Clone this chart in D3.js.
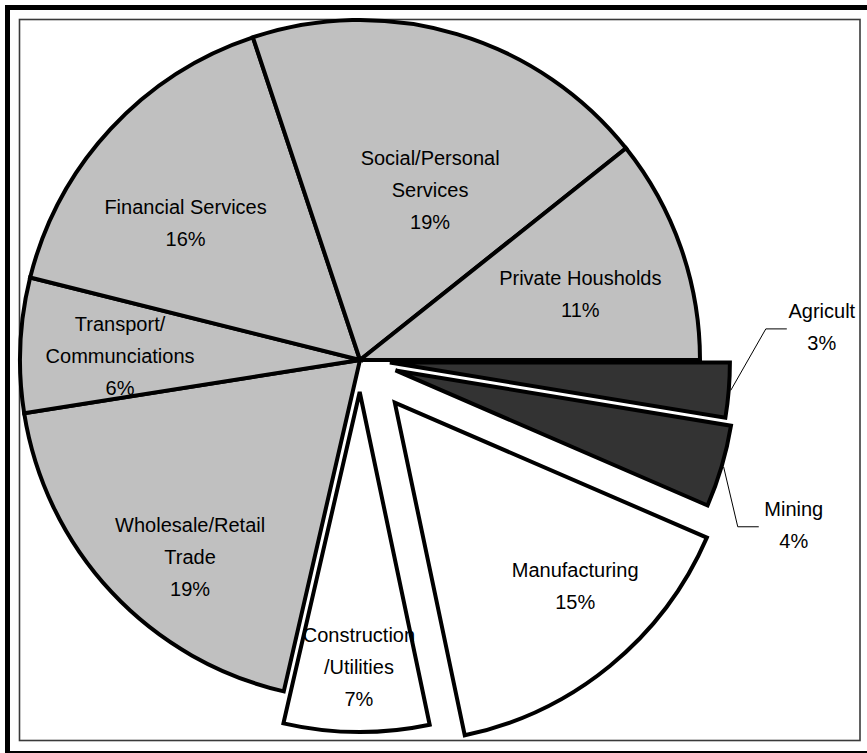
<!DOCTYPE html>
<html>
<head>
<meta charset="utf-8">
<script src="https://cdn.jsdelivr.net/npm/d3@7"></script>
<style>
  html, body { margin: 0; padding: 0; background: #fff; }
  svg { display: block; }
  text { font-family: "Liberation Sans Narrow", "Arial Narrow", "Liberation Sans", sans-serif; }
</style>
</head>
<body>
<svg id="chart" width="867" height="753"></svg>
<script>
// ---- data ----
const categories = ["Agricult", "Mining", "Manufacturing", "Construction\n/Utilities",
  "Wholesale/Retail\nTrade", "Transport/\nCommunciations", "Financial Services",
  "Social/Personal\nServices", "Private Housholds"];
const shares = [2.6, 3.9, 15.2, 6.9, 18.9, 6.4, 16.0, 19.4, 10.7];
const sliceGroup = ["dark", "dark", "white", "white", "gray", "gray", "gray", "gray", "gray"];

// ---- layout (not data) ----
const W = 867, H = 753;
const cx = 360, cy = 360, R = 340;
const explode = [30, 37, 55, 32, 0, 0, 0, 0, 0];
// label anchor, polar from pie centre: [angle deg (clockwise from north), radius px]
const labelPolar = [[85.9, 463], [110.8, 464], [136.4, 312], [180.2, 307],
  [220.8, 260], [271, 240], [308.2, 222], [22.4, 184], [73.3, 230]];
const outside = [true, true, false, false, false, false, false, false, false];
const fills = { dark: "#333333", white: "#ffffff", gray: "#c0c0c0" };
const lineH = 32;

const svg = d3.select("#chart");

// frame
svg.append("rect").attr("x", 5).attr("y", 5).attr("width", 900).attr("height", 800).attr("fill", "#000");
svg.append("rect").attr("x", 10).attr("y", 10).attr("width", 900).attr("height", 741).attr("fill", "#fff");
svg.append("rect").attr("x", 19.5).attr("y", 19.5).attr("width", 840.5).attr("height", 721)
  .attr("fill", "#fff").attr("stroke", "#3a3a3a").attr("stroke-width", 1.6);

const pie = d3.pie().sort(null).value(d => d)
  .startAngle(Math.PI / 2).endAngle(Math.PI / 2 + 2 * Math.PI);
const arcs = pie(shares);
const arc = d3.arc().innerRadius(0).outerRadius(R);
const rad = a => a * Math.PI / 180;

const g = svg.append("g").attr("transform", `translate(${cx},${cy})`);

g.selectAll("path.slice").data(arcs).join("path")
  .attr("class", "slice")
  .attr("d", arc)
  .attr("transform", (d, i) => {
    const mid = (d.startAngle + d.endAngle) / 2;
    const [x, y] = d3.pointRadial(mid, explode[i]);
    return `translate(${x},${y})`;
  })
  .attr("fill", (d, i) => fills[sliceGroup[i]])
  .attr("stroke", "#000")
  .attr("stroke-width", 4)
  .attr("stroke-linejoin", "miter");

// leader lines for outside labels
arcs.forEach((d, i) => {
  if (!outside[i]) return;
  const mid = (d.startAngle + d.endAngle) / 2;
  const [sx, sy] = d3.pointRadial(mid, R + explode[i] + 2);
  const [lx, ly] = d3.pointRadial(rad(labelPolar[i][0]), labelPolar[i][1]);
  const pts = [[sx, sy], [lx - 56, ly + 2], [lx - 35, ly + 2]];
  g.append("path").attr("d", d3.line()(pts))
    .attr("fill", "none").attr("stroke", "#000").attr("stroke-width", 1);
});

// labels
arcs.forEach((d, i) => {
  const [lx, ly] = d3.pointRadial(rad(labelPolar[i][0]), labelPolar[i][1]);
  const pct = Math.round(d.value / d3.sum(shares) * 100) + "%";
  const lines = categories[i].split("\n").concat([pct]);
  const t = g.append("text")
    .attr("text-anchor", "middle")
    .attr("font-size", 20)
    .attr("fill", "#000");
  lines.forEach((s, k) => {
    t.append("tspan")
      .attr("x", lx)
      .attr("y", ly + (k - (lines.length - 1) / 2) * lineH)
      .attr("dy", "0.36em")
      .text(s);
  });
});
</script>
</body>
</html>
